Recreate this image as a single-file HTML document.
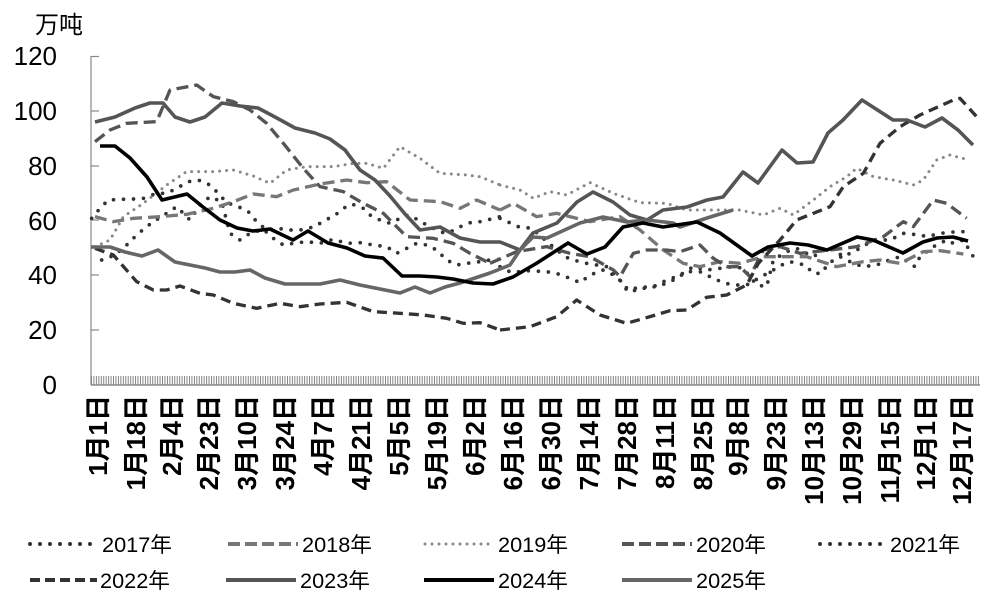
<!DOCTYPE html>
<html><head><meta charset="utf-8"><style>
html,body{margin:0;padding:0;background:#fff;}
svg{display:block;}
text{font-family:"Liberation Sans","Noto Sans CJK SC",sans-serif;fill:#000;}
</style></head><body>
<svg width="987" height="596" viewBox="0 0 987 596" xmlns="http://www.w3.org/2000/svg">
<defs>
<pattern id="tk" x="91" y="0" width="2.45" height="10" patternUnits="userSpaceOnUse">
<rect x="0" y="0" width="0.9" height="10" fill="#777"/>
</pattern>
</defs>
<text x="35" y="33" font-size="24">万吨</text>
<g font-size="26" text-anchor="end">
<text x="57" y="65">120</text><text x="57" y="120">100</text><text x="57" y="175">80</text>
<text x="57" y="230">60</text><text x="57" y="284">40</text><text x="57" y="339">20</text><text x="57" y="394">0</text>
</g>
<line x1="91" y1="56" x2="91" y2="385" stroke="#888" stroke-width="1.2"/>
<g stroke="#888" stroke-width="1.2">
<line x1="91" y1="56.5" x2="99" y2="56.5"/><line x1="91" y1="111" x2="99" y2="111"/><line x1="91" y1="166" x2="99" y2="166"/>
<line x1="91" y1="220" x2="99" y2="220"/><line x1="91" y1="275" x2="99" y2="275"/><line x1="91" y1="330" x2="99" y2="330"/>
</g>
<rect x="91" y="376" width="889" height="9" fill="url(#tk)"/>
<line x1="91" y1="385" x2="980" y2="385" stroke="#777" stroke-width="1.2"/>

<g fill="none" stroke-linejoin="round">
<g transform="scale(0.33333)">
<polyline stroke="#333" stroke-width="11" stroke-linecap="round" stroke-dasharray="0 30" points="275,655 300,625 325,600 360,598 400,597 430,595 470,580 500,580 530,565 565,545 595,540 630,555 655,580 680,608 715,620 745,635 770,665 800,690 830,685 870,690 900,690 945,680 975,660 1000,650 1030,625 1055,612 1090,625 1110,645 1140,660 1170,670 1200,655 1225,645 1255,660 1280,675 1310,690 1335,700 1365,690 1390,675 1420,665 1445,665 1480,655 1500,650"/>
<polyline stroke="#333" stroke-width="11" stroke-linecap="round" stroke-dasharray="0 30" points="305,780 345,765 380,735 405,710 430,688 460,665 500,640 530,620 570,660 600,615 630,590 665,605 690,700 720,720 750,700 790,688 820,715 850,735 880,730 920,725 960,730 1000,718 1040,730 1080,728 1120,735 1160,740 1190,760 1220,745 1250,730 1280,735 1310,750 1340,780 1370,795 1400,790 1440,785 1470,780 1500,778"/>
<polyline stroke="#888" stroke-width="9" stroke-linecap="round" stroke-dasharray="0 21" points="285,740 330,720 370,650 430,610 500,555 560,515 640,515 700,510 760,528 810,550 860,510 920,500 1000,500 1060,490 1100,490 1150,505 1200,440 1260,475 1320,520 1400,525 1440,530 1500,555"/>
<polyline stroke="#777" stroke-width="10" stroke-dasharray="36 18" points="285,650 340,665 400,655 480,650 560,643 640,625 700,605 760,582 830,590 880,570 960,552 1040,540 1100,548 1160,545 1230,600 1320,605 1380,625 1430,600 1500,630"/>
<polyline stroke="#555" stroke-width="10" stroke-dasharray="36 18" points="285,425 330,390 380,370 470,365 510,270 590,255 640,290 700,305 750,330 800,370 850,430 910,505 960,560 1030,575 1090,610 1150,640 1220,710 1300,715 1360,730 1410,760 1470,790"/>
<polyline stroke="#333" stroke-width="10" stroke-dasharray="30 18" points="285,745 340,765 410,845 460,870 500,870 540,858 600,880 640,885 700,910 770,925 840,910 900,920 960,912 1040,907 1120,935 1200,940 1270,945 1340,955 1390,970 1440,968 1500,990"/>
</g>
<g transform="translate(480,0) scale(0.33333)">
<polyline stroke="#333" stroke-width="11" stroke-linecap="round" stroke-dasharray="0 30" points="60,655 115,680 155,685 230,750 265,775 280,780 320,790 380,800 420,840 440,870 480,862 520,860 550,845 600,825 640,800 680,810 720,805 760,800 790,805 830,855 860,860 880,780 920,755 950,745 1000,770 1050,740 1090,770 1140,745 1180,720 1230,720 1270,700 1320,705 1340,710 1380,700 1430,695 1470,695"/>
<polyline stroke="#333" stroke-width="11" stroke-linecap="round" stroke-dasharray="0 30" points="60,800 95,818 140,812 200,815 235,822 270,835 300,848 330,825 370,810 410,830 450,875 490,865 525,860 560,850 590,835 620,815 660,815 700,835 735,850 770,855 800,855 835,835 880,810 905,795 930,785 975,795 1000,820 1025,820 1045,790 1080,770 1120,790 1150,800 1190,795 1220,783 1260,770 1305,800 1320,770 1360,740 1400,720 1420,730 1450,720 1480,770"/>
<polyline stroke="#888" stroke-width="9" stroke-linecap="round" stroke-dasharray="0 21" points="60,555 120,570 160,595 210,575 260,585 330,548 400,580 480,608 560,610 620,630 700,630 780,630 850,645 900,625 940,645 1000,600 1050,560 1100,530 1130,505 1180,530 1240,540 1300,555 1330,540 1370,480 1410,465 1460,478"/>
<polyline stroke="#777" stroke-width="10" stroke-dasharray="36 18" points="60,630 100,610 170,650 230,640 330,665 420,650 480,690 550,750 610,790 660,800 720,785 780,790 850,770 930,770 980,770 1070,800 1150,785 1200,780 1260,790 1330,755 1380,752 1450,762"/>
<polyline stroke="#555" stroke-width="10" stroke-dasharray="36 18" points="30,790 110,755 200,740 270,760 330,770 400,810 420,830 460,760 500,750 560,750 600,755 660,735 700,775 740,800 780,800 810,830 850,750 900,740 960,760 1050,750 1130,740 1210,710 1270,665 1300,680 1360,600 1400,610 1460,655"/>
<polyline stroke="#333" stroke-width="10" stroke-dasharray="30 18" points="60,990 150,980 230,950 290,900 360,945 440,970 510,950 570,932 620,930 680,892 740,885 800,855 835,790 900,720 950,660 1050,620 1090,560 1150,520 1200,430 1260,380 1320,345 1420,300 1440,295 1490,350"/>
</g>
<polyline stroke="#555" stroke-width="3.6" points="95,122 115,117 135,108 150,103 163,103 175,117 190,122 205,117 222,103 240,106 258,108 275,117 295,128 315,133 330,139 345,150 360,170 375,180 390,196 405,214 420,230 440,227 460,238 480,242 500,242 520,250 533,233 557,223 577,202 593,192 613,202 630,215 647,220 663,210 687,207 707,200 723,197 743,172 758,183 782,150 797,163 813,162 828,133 843,120 862,100 893,120 907,120 925,127 942,118 958,130 973,145"/>
<polyline stroke="#666" stroke-width="3.6" points="91,247 110,247 125,252 142,256 158,250 175,262 190,265 205,268 220,272 235,272 250,270 265,278 285,284 300,284 320,284 340,280 360,285 380,289 400,293 415,287 430,293 445,287 460,283 490,273 510,265 520,250 533,237 547,238 580,223 603,217 627,222 647,220 673,223 680,227 707,218 733,210"/>
<polyline stroke="#000" stroke-width="3.6" points="100,146 115,146 130,158 147,177 162,200 187,194 203,207 220,220 237,228 253,231 270,229 293,240 308,231 328,243 347,248 365,256 383,258 402,276 420,276 437,277 453,279 473,283 493,284 513,277 537,263 568,243 587,254 605,247 623,227 643,223 663,227 697,222 720,233 752,256 768,247 790,243 808,245 827,250 857,237 873,240 903,253 923,242 937,238 953,237 968,241"/>
</g>

<g font-size="26" font-weight="bold" text-anchor="end">
<text transform="translate(98,395) rotate(-90)" dominant-baseline="central">1月1日</text>
<text transform="translate(136,395) rotate(-90)" dominant-baseline="central">1月18日</text>
<text transform="translate(172,395) rotate(-90)" dominant-baseline="central">2月4日</text>
<text transform="translate(209,395) rotate(-90)" dominant-baseline="central">2月23日</text>
<text transform="translate(247,395) rotate(-90)" dominant-baseline="central">3月10日</text>
<text transform="translate(285,395) rotate(-90)" dominant-baseline="central">3月24日</text>
<text transform="translate(323,395) rotate(-90)" dominant-baseline="central">4月7日</text>
<text transform="translate(361,395) rotate(-90)" dominant-baseline="central">4月21日</text>
<text transform="translate(399,395) rotate(-90)" dominant-baseline="central">5月5日</text>
<text transform="translate(437,395) rotate(-90)" dominant-baseline="central">5月19日</text>
<text transform="translate(475,395) rotate(-90)" dominant-baseline="central">6月2日</text>
<text transform="translate(513,395) rotate(-90)" dominant-baseline="central">6月16日</text>
<text transform="translate(551,395) rotate(-90)" dominant-baseline="central">6月30日</text>
<text transform="translate(589,395) rotate(-90)" dominant-baseline="central">7月14日</text>
<text transform="translate(627,395) rotate(-90)" dominant-baseline="central">7月28日</text>
<text transform="translate(665,395) rotate(-90)" dominant-baseline="central">8月11日</text>
<text transform="translate(703,395) rotate(-90)" dominant-baseline="central">8月25日</text>
<text transform="translate(738,395) rotate(-90)" dominant-baseline="central">9月8日</text>
<text transform="translate(776,395) rotate(-90)" dominant-baseline="central">9月23日</text>
<text transform="translate(814,395) rotate(-90)" dominant-baseline="central">10月13日</text>
<text transform="translate(852,395) rotate(-90)" dominant-baseline="central">10月29日</text>
<text transform="translate(890,395) rotate(-90)" dominant-baseline="central">11月15日</text>
<text transform="translate(926,395) rotate(-90)" dominant-baseline="central">12月1日</text>
<text transform="translate(962,395) rotate(-90)" dominant-baseline="central">12月17日</text>
</g>

<g fill="none">
<line x1="30" y1="544" x2="93" y2="544" stroke="#333" stroke-width="4" stroke-linecap="round" stroke-dasharray="0 10"/>
<line x1="228" y1="544" x2="298" y2="544" stroke="#777" stroke-width="4" stroke-dasharray="12 5"/>
<line x1="425" y1="544" x2="490" y2="544" stroke="#888" stroke-width="3" stroke-linecap="round" stroke-dasharray="0 7"/>
<line x1="622" y1="544" x2="692" y2="544" stroke="#555" stroke-width="4" stroke-dasharray="12 5"/>
<line x1="820" y1="544" x2="882" y2="544" stroke="#333" stroke-width="4" stroke-linecap="round" stroke-dasharray="0 10"/>
<line x1="30" y1="580" x2="97" y2="580" stroke="#333" stroke-width="4" stroke-dasharray="10 5"/>
<line x1="226" y1="580" x2="296" y2="580" stroke="#555" stroke-width="4"/>
<line x1="424" y1="580" x2="494" y2="580" stroke="#000" stroke-width="4"/>
<line x1="622" y1="580" x2="692" y2="580" stroke="#666" stroke-width="4"/>
</g>
<g font-size="21">
<text x="102" y="552" textLength="70" lengthAdjust="spacingAndGlyphs">2017年</text>
<text x="302" y="552" textLength="70" lengthAdjust="spacingAndGlyphs">2018年</text>
<text x="498" y="552" textLength="70" lengthAdjust="spacingAndGlyphs">2019年</text>
<text x="696" y="552" textLength="70" lengthAdjust="spacingAndGlyphs">2020年</text>
<text x="890" y="552" textLength="70" lengthAdjust="spacingAndGlyphs">2021年</text>
<text x="100" y="588" textLength="70" lengthAdjust="spacingAndGlyphs">2022年</text>
<text x="300" y="588" textLength="70" lengthAdjust="spacingAndGlyphs">2023年</text>
<text x="498" y="588" textLength="70" lengthAdjust="spacingAndGlyphs">2024年</text>
<text x="696" y="588" textLength="70" lengthAdjust="spacingAndGlyphs">2025年</text>
</g>
</svg>
</body></html>
